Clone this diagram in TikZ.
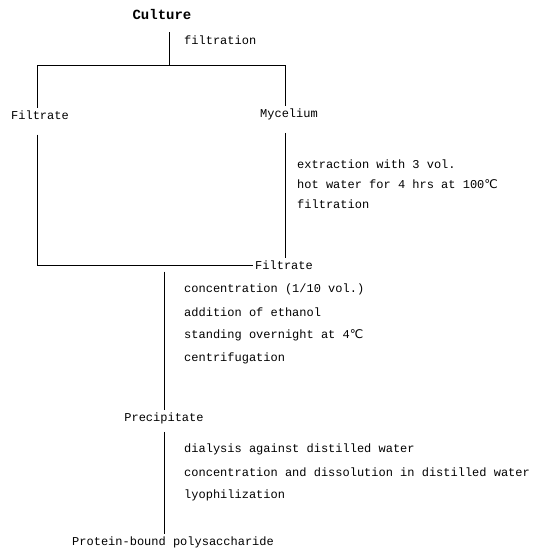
\documentclass[tikz,border=0pt]{standalone}
\usepackage{fontspec}
\setmonofont{Liberation Mono}
\newfontfamily\symfont{DejaVu Sans}
\usetikzlibrary{positioning,calc}
\newcommand{\degC}{{\symfont ℃}}
\tikzset{
  item/.style={font=\ttfamily\fontsize{12}{14}\selectfont,inner sep=2pt},
  note/.style={item,anchor=west},
  flow/.style={draw=black,line width=0.7pt},
}

\begin{document}
\begin{tikzpicture}[x=1pt,y=-1pt]
\useasboundingbox (0,0) rectangle (543,551);
\node[item,font=\ttfamily\bfseries\fontsize{14}{16}\selectfont] (culture) at (162,14) {Culture};
\coordinate (split) at (169,65);
\coordinate (splitL) at (37,65);
\coordinate (splitR) at (285,65);
\node[item] (filtL) at (40,115) {Filtrate};
\node[item] (myc) at (289,114) {Mycelium};
\node[note] (filtB) at (253,265) {Filtrate};
\node[item] (precip) at (164,418) {Precipitate};
\node[note] (prot) at (70,542) {Protein-bound polysaccharide};
% first filtration
\draw[flow,shorten <=11pt] (culture.south -| split) -- (split);
\node[note] (n1) at (182,40) {filtration};
\draw[flow] (splitL) -- (splitR);
\draw[flow] (splitL) -- (splitL |- filtL.north);
\draw[flow] (splitR) -- (splitR |- myc.north);
\draw[flow,shorten <=13pt] (splitL |- filtL.south) |- (filtB.west);
\draw[flow,shorten <=11pt] (splitR |- myc.south) -- (splitR |- filtB.north);
% hot water extraction
\node[note] (n2) at (295,164) {extraction with 3 vol.};
\node[note] (n3) at (295,184) {hot water for 4 hrs at 100\degC};
\node[note] (n4) at (295,204) {filtration};
% precipitation
\draw[flow] (filtB.south -| precip) -- (precip);
\node[note] (n5) at (182,289) {concentration (1/10 vol.)};
\node[note] (n6) at (182,312) {addition of ethanol};
\node[note] (n7) at (182,335) {standing overnight at 4\degC};
\node[note] (n8) at (182,358) {centrifugation};
% purification
\draw[flow,shorten <=6pt] (precip) -- (precip |- prot.north);
\node[note] (n9) at (182,449) {dialysis against distilled water};
\node[note] (n10) at (182,472) {concentration and dissolution in distilled water};
\node[note] (n11) at (182,495) {lyophilization};
\end{tikzpicture}
\end{document}
